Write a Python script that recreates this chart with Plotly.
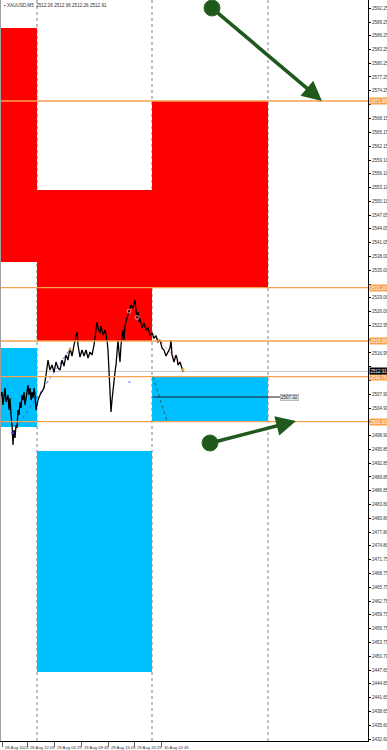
import plotly.graph_objects as go

# ---------------- data ----------------
# time axis in hours from chart start (M5 bars), prices in USD
hours = [0.0, 0.4, 0.6, 1.0, 1.2, 1.6, 1.8, 2.0, 2.2, 2.4,
         2.6, 2.8, 3.0, 3.2, 3.4, 3.6, 3.8, 4.0, 4.2, 4.4,
         4.6, 4.8, 5.0, 5.2, 5.4, 5.6, 5.8, 6.0, 6.2, 6.4,
         6.6, 6.8, 7.0, 7.2, 7.4, 7.6, 8.0, 8.4, 8.8, 9.2,
         9.4, 9.6, 10.0, 10.4, 10.8, 11.2, 11.6, 12.0, 12.4, 12.8,
         13.2, 13.6, 14.0, 14.4, 14.8, 15.2, 15.4, 15.6, 16.0, 16.4,
         16.8, 17.2, 17.6, 18.0, 18.4, 18.8, 19.2, 19.4, 19.6, 20.0,
         20.2, 20.6, 21.0, 21.4, 21.6, 21.8, 22.0, 22.2, 22.4, 22.6,
         22.8, 23.0, 23.2, 23.4, 23.6, 23.8, 24.0, 24.2, 24.4, 24.6,
         24.8, 25.0, 25.4, 25.8, 26.2, 26.6, 26.8, 27.0, 27.2, 27.4,
         27.6, 27.8, 28.0, 28.4, 28.8, 29.2, 29.6, 30.0, 30.4, 30.8,
         31.2, 31.6, 32.0, 32.4, 32.8, 33.2, 33.6, 34.0, 34.2, 34.4,
         34.8, 35.2, 35.4, 35.6, 36.0, 36.4, 36.6]
prices = [2507.10, 2508.42, 2505.57, 2509.29, 2506.23, 2507.76, 2504.48, 2507.10, 2503.38, 2501.20,
          2496.83, 2500.11, 2498.36, 2501.20, 2500.54, 2504.48, 2503.38, 2506.23, 2504.92, 2507.76,
          2506.66, 2508.42, 2505.57, 2507.10, 2508.85, 2509.94, 2507.76, 2509.29, 2506.66, 2508.42,
          2507.10, 2509.29, 2507.76, 2504.48, 2505.57, 2506.66, 2507.76, 2508.42, 2509.29, 2512.13,
          2514.31, 2515.40, 2513.22, 2514.31, 2512.78, 2514.97, 2513.66, 2513.22, 2515.40, 2514.09,
          2516.50, 2515.40, 2518.03, 2516.28, 2518.68, 2520.21, 2521.52, 2518.68, 2516.06, 2517.59,
          2516.28, 2517.59, 2515.84, 2517.15, 2516.50, 2518.68, 2521.96, 2523.70, 2522.40, 2521.30,
          2522.83, 2520.87, 2521.96, 2519.77, 2517.59, 2512.13, 2507.76, 2504.04, 2506.66, 2509.29,
          2511.03, 2512.78, 2514.31, 2517.59, 2519.77, 2517.15, 2514.97, 2518.68, 2520.21, 2521.96,
          2519.77, 2523.05, 2524.58, 2525.89, 2527.42, 2526.76, 2528.08, 2528.51, 2526.33, 2524.58,
          2525.89, 2523.70, 2524.58, 2522.40, 2523.49, 2521.96, 2522.40, 2520.87, 2521.30, 2520.21,
          2520.65, 2519.34, 2519.77, 2518.03, 2517.59, 2516.28, 2517.15, 2518.03, 2519.77, 2516.50,
          2514.97, 2516.50, 2515.84, 2514.31, 2514.97, 2513.22, 2512.91]

# daily separators (hours)
day_separators = [7.4, 30.4, 53.6]

# zones: (start hour, end hour, top price, bottom price)
supply_zones = [(0.0, 7.4, 2587.94, 2536.82),
                (7.4, 30.4, 2552.55, 2519.56),
                (30.4, 53.6, 2571.99, 2531.20)]
demand_zones = [(0.0, 7.4, 2518.03, 2500.76),
                (7.4, 30.4, 2495.52, 2447.24),
                (30.4, 53.6, 2511.76, 2501.93)]

orange_levels = [2571.99, 2531.20, 2519.56, 2511.76, 2501.93]
bid_price = 2512.91
target_level = 2507.32
target_start, target_end = 30.5, 56.0

# zigzag helper lines
zig_blue_t, zig_blue_p = [2.54, 14.0], [2499.45, 2517.81]
zig_red_t, zig_red_p = [30.6, 36.0], [2521.30, 2514.75]
zig_teal_t, zig_teal_p = [30.6, 33.4], [2511.69, 2502.08]
blue_dash_t, blue_dash_p = [25.6, 26.6], [2510.60, 2510.60]

# arrows: (tail hour, tail price, head hour, head price)
arrows = [(42.4, 2592.31, 64.4, 2571.99),
          (42.0, 2497.27, 59.2, 2502.08)]

y_tick_vals = [2592.25, 2589.25, 2586.25, 2583.25, 2580.25, 2577.25, 2574.25, 2571.15, 2568.15, 2565.15,
               2562.15, 2559.10, 2556.10, 2553.10, 2550.10, 2547.05, 2544.05, 2541.05, 2538.00, 2535.00,
               2532.00, 2529.00, 2526.00, 2522.95, 2519.95, 2516.95, 2513.95, 2510.90, 2507.90, 2504.90,
               2501.90, 2498.90, 2495.85, 2492.85, 2489.85, 2486.85, 2483.80, 2480.80, 2477.80, 2474.80,
               2471.75, 2468.75, 2465.75, 2462.75, 2459.75, 2456.75, 2453.75, 2450.70, 2447.65, 2444.65,
               2441.65, 2438.65, 2435.60, 2432.60]
# time-axis marks (hours) where each date label starts
x_tick_vals = [0.4, 5.4, 10.8, 16.2, 21.6, 26.8, 32.2]
x_tick_text = ["28 Aug 2024", "28 Aug 22:05", "29 Aug 04:25", "29 Aug 09:45",
               "29 Aug 15:05", "29 Aug 20:25", "30 Aug 02:45"]
header_text = "XAUUSD,M5  2512.26 2512.96 2512.26 2512.91"

X_RANGE = [0, 73.6]
Y_RANGE = [2432.17, 2594.06]

# ---------------- figure ----------------
RED = "#ff0000"
BLUE = "#00bfff"
ORANGE = "#f7a24c"
GREEN = "#1f5a1c"
FONT = "Arial, Liberation Sans, sans-serif"

# tick labels hidden where a price label box covers them (as on the terminal)
covered = orange_levels + [bid_price]
y_tick_text = ["" if any(abs(v - c) < 1.6 for c in covered) else f"{v:.2f}" for v in y_tick_vals]

fig = go.Figure()
shapes = []
for (t0, t1, top, bot) in supply_zones:
    shapes.append(dict(type="rect", xref="x", yref="y", x0=t0, x1=t1, y0=bot, y1=top,
                       fillcolor=RED, line=dict(width=0), layer="below"))
for (t0, t1, top, bot) in demand_zones:
    shapes.append(dict(type="rect", xref="x", yref="y", x0=t0, x1=t1, y0=bot, y1=top,
                       fillcolor=BLUE, line=dict(width=0), layer="below"))
for t in day_separators:
    shapes.append(dict(type="line", xref="x", yref="paper", x0=t, x1=t, y0=0, y1=1,
                       line=dict(color="#808080", width=1, dash="dot"), layer="below"))
shapes.append(dict(type="line", xref="paper", yref="y", x0=0, x1=1, y0=bid_price, y1=bid_price,
                   line=dict(color="#c8c8c8", width=1), layer="below"))
for lv in orange_levels:
    shapes.append(dict(type="line", xref="paper", yref="y", x0=0, x1=1, y0=lv, y1=lv,
                       line=dict(color=ORANGE, width=1.3), layer="above"))

fig.add_trace(go.Scatter(x=zig_blue_t, y=zig_blue_p, mode="lines",
                         line=dict(color="#4a5de0", width=1, dash="dot"), hoverinfo="skip"))
fig.add_trace(go.Scatter(x=zig_red_t, y=zig_red_p, mode="lines",
                         line=dict(color="#ff8080", width=1, dash="dot"), hoverinfo="skip"))
fig.add_trace(go.Scatter(x=zig_teal_t, y=zig_teal_p, mode="lines",
                         line=dict(color="#1c5a6e", width=1, dash="dot"), hoverinfo="skip"))
fig.add_trace(go.Scatter(x=blue_dash_t, y=blue_dash_p, mode="lines",
                         line=dict(color="#6f7fe8", width=1, dash="dot"), hoverinfo="skip"))
fig.add_trace(go.Scatter(x=[target_start, target_end], y=[target_level, target_level], mode="lines",
                         line=dict(color="#202020", width=1), hoverinfo="skip"))

fig.add_trace(go.Scatter(x=hours, y=prices, mode="lines",
                         line=dict(color="#000000", width=1.3), hoverinfo="skip"))

fig.add_trace(go.Scatter(x=[zig_blue_t[0]], y=[zig_blue_p[0]], mode="markers",
                         marker=dict(color="#3040d0", size=3), hoverinfo="skip"))
fig.add_trace(go.Scatter(x=[zig_blue_t[1], hours[-1]], y=[zig_blue_p[1], prices[-1] + 0.4], mode="markers",
                         marker=dict(color="#f0a030", size=3), hoverinfo="skip"))
fig.add_trace(go.Scatter(x=[hours[93], hours[99]], y=[prices[93] + 0.2, prices[99] + 0.1], mode="markers",
                         marker=dict(color="rgba(0,0,0,0)", size=4, line=dict(color="#ff9090", width=1)),
                         hoverinfo="skip"))
fig.add_trace(go.Scatter(x=[a[0] for a in arrows], y=[a[1] for a in arrows], mode="markers",
                         marker=dict(color=GREEN, size=16, line=dict(color="#2f6a2a", width=1)),
                         hoverinfo="skip"))

annotations = []
for (t0, p0, t1, p1) in arrows:
    annotations.append(dict(x=t1, y=p1, xref="x", yref="y", ax=t0, ay=p0, axref="x", ayref="y",
                            text="", showarrow=True, arrowhead=2, arrowsize=1.1, arrowwidth=3.6,
                            arrowcolor=GREEN, standoff=0, startstandoff=0))
for lv in orange_levels:
    annotations.append(dict(x=1.0, y=lv, xref="paper", yref="y", xanchor="left", yanchor="middle",
                            xshift=1, text=f"{lv:.2f}", showarrow=False, bgcolor=ORANGE,
                            font=dict(size=4.5, color="white", family=FONT), borderpad=0.5))
annotations.append(dict(x=1.0, y=bid_price, xref="paper", yref="y", xanchor="left", yanchor="middle",
                        xshift=1, text=f"{bid_price:.2f}", showarrow=False, bgcolor="#000000",
                        font=dict(size=4.5, color="white", family=FONT), borderpad=0.5))
annotations.append(dict(x=target_end, y=target_level, xref="x", yref="y", xanchor="left",
                        yanchor="middle", text=f"{target_level:.2f}", showarrow=False,
                        bgcolor="#e4e4e4", bordercolor="#909090", borderwidth=0.5,
                        font=dict(size=4.5, color="#202020", family=FONT), borderpad=0.5))
annotations.append(dict(x=0.005, y=0.992, xref="paper", yref="paper", xanchor="left",
                        yanchor="middle", text="▪ " + header_text, showarrow=False,
                        font=dict(size=4.6, color="#303030", family=FONT)))
# date labels, left-aligned at their time marks (terminal style)
for tv, tt in zip(x_tick_vals, x_tick_text):
    annotations.append(dict(x=tv, y=0, xref="x", yref="paper", xanchor="left", yanchor="top",
                            xshift=0.5, yshift=-1.5, text=tt, showarrow=False,
                            font=dict(size=4.2, color="#303030", family=FONT)))

shapes.append(dict(type="line", xref="paper", yref="paper", x0=0, x1=0, y0=0, y1=1,
                   line=dict(color="#a0a0a0", width=2)))

fig.update_layout(
    width=387, height=750,
    margin=dict(l=0, r=19, t=0, b=9, pad=0, autoexpand=False),
    paper_bgcolor="white", plot_bgcolor="white",
    showlegend=False,
    shapes=shapes, annotations=annotations,
    xaxis=dict(range=X_RANGE, showgrid=False, zeroline=False, showline=True, automargin=False,
               linecolor="#000000", linewidth=1, tickvals=x_tick_vals, showticklabels=False,
               ticks="outside", ticklen=5, tickcolor="#606060", tickwidth=0.6,
               fixedrange=True),
    yaxis=dict(range=Y_RANGE, side="right", showgrid=False, zeroline=False, showline=True,
               automargin=False, linecolor="#000000", linewidth=1, tickvals=y_tick_vals,
               ticktext=y_tick_text, ticks="outside", ticklen=2,
               tickcolor="#000000", tickfont=dict(size=4.5, color="#303030", family=FONT),
               fixedrange=True),
)

fig.write_html("out.html")
